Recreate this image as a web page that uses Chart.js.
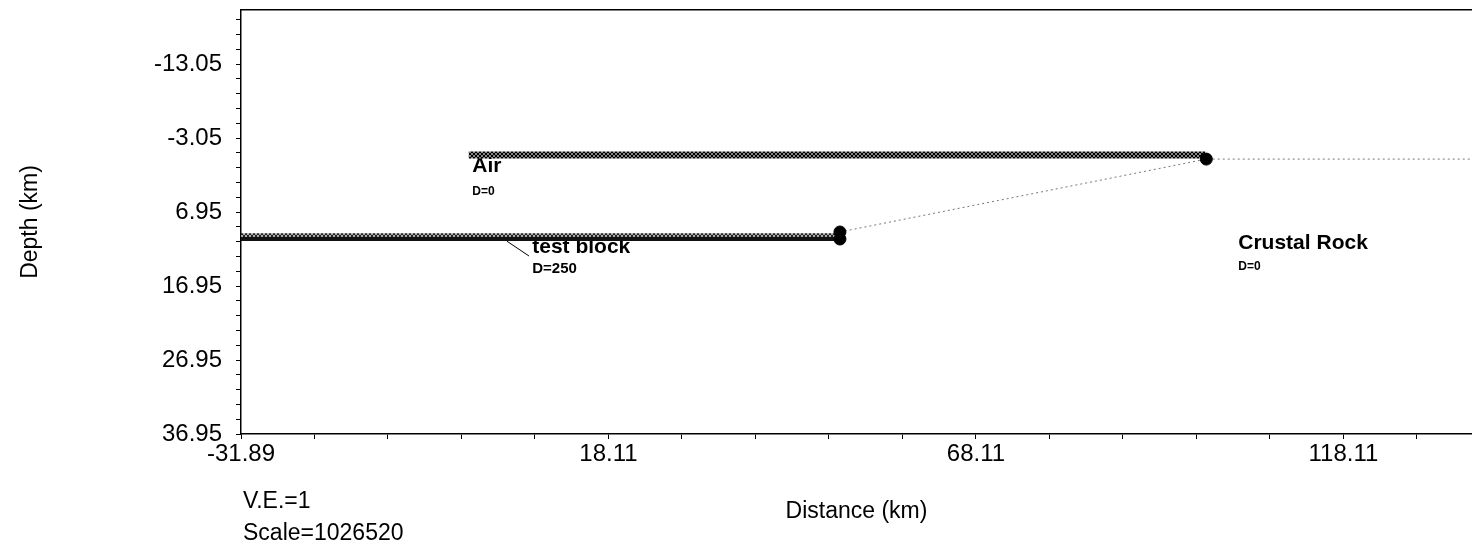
<!DOCTYPE html>
<html>
<head>
<meta charset="utf-8">
<script src="https://cdn.jsdelivr.net/npm/chart.js@4.4.1/dist/chart.umd.min.js"></script>
<style>
  html, body { margin: 0; padding: 0; background: #fff; }
  #wrap { width: 1472px; height: 546px; }
</style>
</head>
<body>
<div id="wrap"><canvas id="model" width="1472" height="546"></canvas></div>
<script>
// Axis ranges and labelled ticks (km)
const xRange = [-31.89, 135.6];
const yRange = [-20.35, 36.95];
const xTickLabels = [-31.89, 18.11, 68.11, 118.11];
const yTickLabels = [-13.05, -3.05, 6.95, 16.95, 26.95, 36.95];

// Body boundaries (distance km, depth km)
const airX = [-0.9, 99.3];
const airDepth = [-0.75, -0.75];
const blockX = [-31.89, 49.6];
const blockTopDepth = [10.1, 10.1];
const blockBaseDepth = [10.6, 10.6];
const linkX = [49.6, 99.45, 135.6];
const linkDepth = [9.65, -0.2, -0.2];
const nodeX = [49.6, 49.6, 99.45];
const nodeDepth = [9.65, 10.6, -0.2];
const leaderX = [4.3, 7.3];
const leaderDepth = [10.9, 12.9];

// Region labels
const regionNames = ['Air', 'test block', 'Crustal Rock'];
const regionDensity = ['D=0', 'D=250', 'D=0'];
const regionX = [-0.42, 7.74, 103.8];
const regionDepth = [1.54, 12.49, 11.95];
const densityDepth = [4.65, 15.19, 14.79];

const notes = ['V.E.=1', 'Scale=1026520'];

const FONT = '"Liberation Sans", Arial, Helvetica, sans-serif';

const pts = (xs, ys) => xs.map((x, i) => ({ x: x, y: ys[i] }));

// crosshatch fill used for the boundary bands
function hatch(ink, paper) {
    const c = document.createElement('canvas');
    c.width = 4; c.height = 4;
    const g = c.getContext('2d');
    g.fillStyle = paper;
    g.fillRect(0, 0, 4, 4);
    g.fillStyle = ink;
    [[0, 0], [1, 1], [2, 2], [3, 3], [3, 0], [2, 1], [1, 2], [0, 3]].forEach(p => g.fillRect(p[0], p[1], 1, 1));
    return g.createPattern(c, 'repeat');
}

const isMajor = (list, v) => list.some(m => Math.abs(m - v) < 1e-6);

const labelsPlugin = {
    id: 'regionLabels',
    beforeDatasetsDraw(chart) {
        const { ctx, scales } = chart;
        const dSizes = [12, 15, 12];
        ctx.save();
        ctx.fillStyle = '#000';
        ctx.textAlign = 'left';
        ctx.textBaseline = 'alphabetic';
        regionNames.forEach((name, i) => {
            const px = scales.x.getPixelForValue(regionX[i]);
            ctx.font = 'bold 21px ' + FONT;
            ctx.fillText(name, px, scales.y.getPixelForValue(regionDepth[i]));
            ctx.font = 'bold ' + dSizes[i] + 'px ' + FONT;
            ctx.fillText(regionDensity[i], px, scales.y.getPixelForValue(densityDepth[i]));
        });
        ctx.restore();
    },
    afterDraw(chart) {
        const { ctx, chartArea } = chart;
        ctx.save();
        ctx.fillStyle = '#000';
        ctx.font = '23px ' + FONT;
        ctx.textAlign = 'left';
        ctx.fillText(notes[0], chartArea.left + 2, 508);
        ctx.fillText(notes[1], chartArea.left + 2, 540);
        ctx.restore();
    }
};

const line = (data, color, width, extra) => Object.assign({
    data: data,
    showLine: true,
    borderColor: color,
    borderWidth: width,
    pointRadius: 0,
    fill: false
}, extra || {});

new Chart(document.getElementById('model'), {
    type: 'scatter',
    data: {
        datasets: [
            {
                data: pts(nodeX, nodeDepth),
                showLine: false,
                pointRadius: 6,
                backgroundColor: '#000',
                borderColor: '#000'
            },
            line(pts(leaderX, leaderDepth), '#000', 1),
            line(pts(airX, airDepth), hatch('#000', '#888'), 7),
            line(pts(blockX, blockBaseDepth), '#111', 4),
            line(pts(blockX, blockTopDepth), hatch('#222', '#aaa'), 4),
            line(pts(linkX, linkDepth), '#777', 1, { borderDash: [2, 3] })
        ]
    },
    options: {
        responsive: false,
        animation: false,
        devicePixelRatio: 1,
        layout: { autoPadding: false, padding: { top: 10, left: 0, right: 0, bottom: 0 } },
        plugins: {
            legend: { display: false },
            tooltip: { enabled: false }
        },
        scales: {
            x: {
                type: 'linear',
                position: 'bottom',
                min: xRange[0],
                max: xRange[1],
                afterBuildTicks: s => {
                    const t = [];
                    for (let v = xRange[0]; v <= xRange[1] + 1e-6; v += 10) t.push({ value: +v.toFixed(2) });
                    s.ticks = t;
                },
                afterFit: s => {
                    s.height = 112;
                    s.paddingLeft = 0;
                    s.paddingRight = 0;
                },
                ticks: {
                    autoSkip: false,
                    maxRotation: 0,
                    padding: 1,
                    color: '#000',
                    font: { family: FONT, size: 24 },
                    callback: v => isMajor(xTickLabels, v) ? v.toFixed(2) : ''
                },
                grid: { drawOnChartArea: false, tickLength: 5, color: '#000', lineWidth: 1 },
                border: { display: true, color: '#000', width: 1.5 },
                title: {
                    display: true,
                    text: 'Distance (km)',
                    color: '#000',
                    font: { family: FONT, size: 23 },
                    padding: { top: 0, bottom: 21 }
                }
            },
            xTop: {
                type: 'linear',
                position: 'top',
                min: xRange[0],
                max: xRange[1],
                afterFit: s => {
                    s.height = 0;
                    s.paddingLeft = 0;
                    s.paddingRight = 0;
                },
                ticks: { display: false },
                grid: { drawOnChartArea: false, drawTicks: false },
                border: { display: true, color: '#000', width: 1.5 }
            },
            y: {
                type: 'linear',
                reverse: true,
                min: yRange[0],
                max: yRange[1],
                afterBuildTicks: s => {
                    const t = [];
                    for (let v = yTickLabels[0]; v >= yRange[0] - 1e-6; v -= 2) t.push({ value: +v.toFixed(2) });
                    for (let v = yTickLabels[0] + 2; v <= yRange[1] + 1e-6; v += 2) t.push({ value: +v.toFixed(2) });
                    s.ticks = t.sort((a, b) => a.value - b.value);
                },
                afterFit: s => {
                    s.width = 241;
                    s.paddingTop = 0;
                    s.paddingBottom = 0;
                },
                ticks: {
                    autoSkip: false,
                    padding: 14,
                    color: '#000',
                    font: { family: FONT, size: 24 },
                    callback: v => isMajor(yTickLabels, v) ? v.toFixed(2) : ''
                },
                grid: { drawOnChartArea: false, tickLength: 5, color: '#000', lineWidth: 1 },
                border: { display: true, color: '#000', width: 1.5 },
                title: {
                    display: true,
                    text: 'Depth (km)',
                    color: '#000',
                    font: { family: FONT, size: 23 },
                    padding: { top: 17, bottom: 0 }
                }
            }
        }
    },
    plugins: [labelsPlugin]
});
</script>
</body>
</html>
